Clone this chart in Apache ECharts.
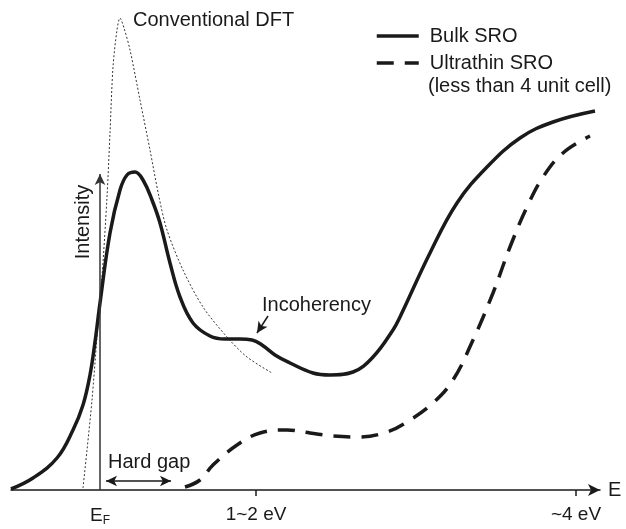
<!DOCTYPE html>
<html>
<head>
<meta charset="utf-8">
<script src="https://cdn.jsdelivr.net/npm/echarts@6/dist/echarts.min.js"></script>
<style>
html,body{margin:0;padding:0;background:#fff;}
#chart{width:626px;height:529px;}
</style>
</head>
<body>
<div id="chart"></div>
<script>
// energy axis: 0 = E_F, arbitrary units
var tickValues = [0, 1.56, 4.76];
var tickLabels = ['E_F', '1~2 eV', '~4 eV'];

// Bulk SRO (solid)
var bulkX = [-0.89, -0.67, -0.43, -0.27, -0.17, -0.10, -0.05, 0.00, 0.10, 0.20, 0.27, 0.35, 0.43, 0.52, 0.60, 0.70, 0.80, 0.93, 1.10, 1.25, 1.40, 1.52, 1.62, 1.75, 1.90, 2.13, 2.30, 2.53, 2.73, 2.93, 3.00, 3.30, 3.57, 3.87, 4.20, 4.53, 4.95];
var bulkY = [0.01, 0.12, 0.32, 0.60, 0.85, 1.15, 1.48, 1.87, 2.57, 3.00, 3.15, 3.18, 3.10, 2.90, 2.67, 2.27, 1.93, 1.67, 1.54, 1.51, 1.51, 1.50, 1.45, 1.35, 1.27, 1.17, 1.15, 1.18, 1.33, 1.60, 1.73, 2.37, 2.87, 3.23, 3.52, 3.68, 3.79];

// Ultrathin SRO (dashed)
var thinX = [0.85, 1.00, 1.13, 1.37, 1.60, 1.87, 2.10, 2.33, 2.60, 2.87, 3.07, 3.33, 3.53, 3.73, 3.93, 4.10, 4.27, 4.43, 4.63, 4.90];
var thinY = [0.03, 0.10, 0.25, 0.45, 0.57, 0.60, 0.57, 0.54, 0.53, 0.58, 0.68, 0.87, 1.10, 1.50, 1.97, 2.43, 2.83, 3.13, 3.37, 3.54];

// Conventional DFT (dotted)
var dftX = [-0.17, -0.13, -0.08, -0.03, 0.02, 0.07, 0.10, 0.13, 0.17, 0.20, 0.24, 0.30, 0.40, 0.50, 0.59, 0.67, 0.83, 1.03, 1.27, 1.47, 1.72];
var dftY = [0.02, 0.40, 0.90, 1.53, 2.13, 2.93, 3.57, 4.23, 4.60, 4.72, 4.62, 4.40, 3.90, 3.40, 2.93, 2.60, 2.20, 1.83, 1.53, 1.33, 1.17];

function pairs(xs, ys){
	var out = [];
	for(var i=0;i<xs.length;i++){
		out.push([xs[i], ys[i]]);
	}
	return out;
}

var FONT = "'Liberation Sans', Arial, sans-serif";
var INK = '#1a1a1a';

var myChart = echarts.init(document.getElementById('chart'));
var option = {
	animation: false,
	grid: {left: 11, right: 26, top: 10, bottom: 39},
	xAxis: {
		type: 'value',
		min: -0.89,
		max: 5.0,
		splitLine: {show: false},
		axisLine: {
			onZero: false,
			symbol: ['none', 'arrow'],
			symbolSize: [9, 12],
			lineStyle: {color: INK, width: 1.5}
		},
		axisTick: {
			customValues: [tickValues[1], tickValues[2]],
			length: 6,
			lineStyle: {color: INK, width: 1.5}
		},
		axisLabel: {
			customValues: tickValues,
			margin: 15,
			color: INK,
			fontFamily: FONT,
			fontSize: 19,
			formatter: function(v){
				for(var i=0;i<tickValues.length;i++){
					if(Math.abs(tickValues[i]-v) < 1e-6){
						return i==0 ? '{e|E}{s|F}' : tickLabels[i];
					}
				}
				return '';
			},
			rich: {
				e: {fontSize: 19, fontFamily: FONT, color: INK},
				s: {fontSize: 12, fontFamily: FONT, color: INK, padding: [10, 0, 0, 0]}
			}
		},
		name: 'E',
		nameLocation: 'end',
		nameGap: 8,
		nameTextStyle: {color: INK, fontFamily: FONT, fontSize: 20, verticalAlign: 'middle'}
	},
	yAxis: {type: 'value', min: 0, max: 4.8, show: false},
	legend: {
		data: ['Bulk SRO', 'Ultrathin SRO'],
		orient: 'vertical',
		left: 375,
		top: 26,
		padding: 0,
		itemWidth: 42,
		itemHeight: 14,
		itemGap: 7,
		itemStyle: {opacity: 0},
		lineStyle: {width: 3.5},
		textStyle: {color: INK, fontFamily: FONT, fontSize: 20, lineHeight: 20, padding: [0, 0, 0, 6]}
	},
	series: [
		{
			name: 'Conventional DFT',
			type: 'line',
			data: pairs(dftX, dftY),
			smooth: 0.3,
			symbol: 'none',
			clip: false,
			lineStyle: {color: '#333', width: 1, type: [2, 2]},
			z: 2
		},
		{
			name: 'Bulk SRO',
			type: 'line',
			data: pairs(bulkX, bulkY),
			smooth: 0.4,
			symbol: 'none',
			clip: false,
			lineStyle: {color: INK, width: 3.5},
			z: 3
		},
		{
			name: 'Ultrathin SRO',
			type: 'line',
			data: pairs(thinX, thinY),
			smooth: 0.4,
			symbol: 'none',
			clip: false,
			lineStyle: {color: INK, width: 3.5, type: [17, 11]},
			z: 3
		},
		{
			// arrows: E_F intensity axis, hard gap, incoherency pointer
			name: 'notes',
			type: 'line',
			data: [],
			markLine: {
				silent: true,
				animation: false,
				symbolSize: [8, 11],
				label: {show: false},
				data: [
					[{coord: [0, 0], symbol: 'none', lineStyle: {color: '#333', width: 1.5, type: 'solid'}},
					 {coord: [0, 3.16], symbol: 'arrow'}],
					[{coord: [0.06, 0.09], symbol: 'arrow', lineStyle: {color: INK, width: 1.5, type: 'solid'}},
					 {coord: [0.71, 0.09], symbol: 'arrow'}],
					[{coord: [1.68, 1.74], symbol: 'none', lineStyle: {color: INK, width: 1.5, type: 'solid'}},
					 {coord: [1.57, 1.57], symbol: 'arrow'}]
				]
			}
		}
	],
	graphic: [
		{type: 'text', x: 133, y: 20, style: {text: 'Conventional DFT', fill: INK, font: '20px ' + FONT, verticalAlign: 'middle'}},
		{type: 'text', x: 428, y: 86, style: {text: '(less than 4 unit cell)', fill: INK, font: '20px ' + FONT, verticalAlign: 'middle'}},
		{type: 'text', x: 83, y: 222, rotation: Math.PI / 2, style: {text: 'Intensity', fill: INK, font: '20px ' + FONT, align: 'center', verticalAlign: 'middle'}},
		{type: 'text', x: 262, y: 305, style: {text: 'Incoherency', fill: INK, font: '20px ' + FONT, verticalAlign: 'middle'}},
		{type: 'text', x: 108, y: 462, style: {text: 'Hard gap', fill: INK, font: '20px ' + FONT, verticalAlign: 'middle'}}
	]
};
myChart.setOption(option);
</script>
</body>
</html>
